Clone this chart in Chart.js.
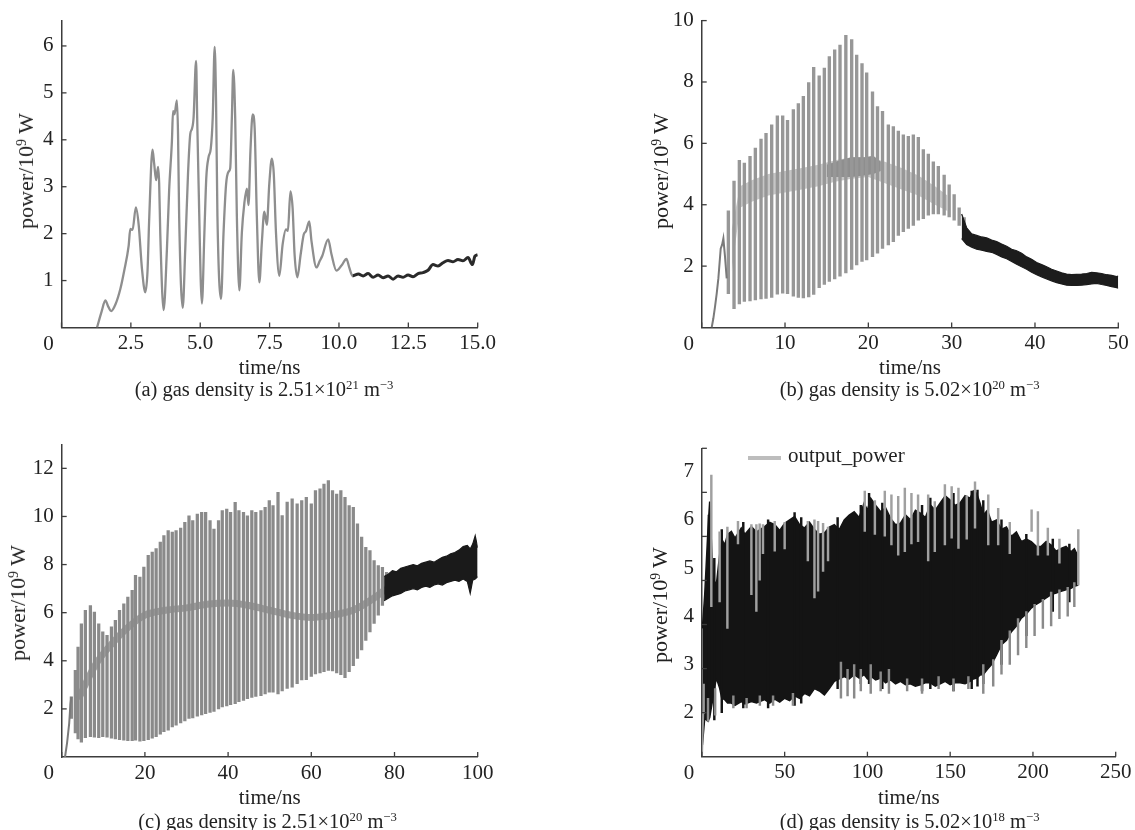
<!DOCTYPE html>
<html><head><meta charset="utf-8">
<script src="https://cdn.jsdelivr.net/npm/chart.js@4.4.1/dist/chart.umd.min.js"></script>
<style>
html,body{margin:0;padding:0;background:#fff;width:1135px;height:830px;overflow:hidden;}
#wrap{position:relative;width:1135px;height:830px;background:#fff;}
canvas{position:absolute;}
.t{position:absolute;transform:translate(-50%,-50%);font-family:"Liberation Serif","Times New Roman",serif;font-size:21px;line-height:1;white-space:nowrap;color:#222;}
.yt{transform:translate(-50%,-50%) rotate(-90deg);font-size:22px;}
.cap{font-size:20.5px;}
sup{font-size:0.62em;position:relative;top:-0.5em;vertical-align:baseline;line-height:0;}
#legline{position:absolute;left:748px;top:456px;width:33px;height:4px;background:#bdbdbd;}
#legtxt{position:absolute;left:788px;top:445px;font-family:"Liberation Serif",serif;font-size:21px;line-height:21px;color:#222;white-space:nowrap;}
</style></head><body>
<div id="wrap">
<canvas id="ca" width="567" height="410" style="left:0;top:0"></canvas>
<canvas id="cb" width="568" height="410" style="left:567px;top:0"></canvas>
<canvas id="cc" width="567" height="420" style="left:0;top:410px"></canvas>
<canvas id="cd" width="568" height="420" style="left:567px;top:410px"></canvas>

<div class="t yt" style="left:26px;top:171px">power/10<sup>9</sup> W</div>
<div class="t" style="left:269.6px;top:367px">time/ns</div>
<div class="t cap" style="left:264px;top:388.5px">(a) gas density is 2.51×10<sup>21</sup> m<sup>−3</sup></div>

<div class="t yt" style="left:660.5px;top:171px">power/10<sup>9</sup> W</div>
<div class="t" style="left:910px;top:367px">time/ns</div>
<div class="t cap" style="left:909.6px;top:388.5px">(b) gas density is 5.02×10<sup>20</sup> m<sup>−3</sup></div>

<div class="t yt" style="left:18px;top:603px">power/10<sup>9</sup> W</div>
<div class="t" style="left:269.7px;top:796.7px">time/ns</div>
<div class="t cap" style="left:267.5px;top:820.7px">(c) gas density is 2.51×10<sup>20</sup> m<sup>−3</sup></div>

<div class="t yt" style="left:660px;top:605px">power/10<sup>9</sup> W</div>
<div class="t" style="left:908.8px;top:796.7px">time/ns</div>
<div class="t cap" style="left:909.6px;top:820.7px">(d) gas density is 5.02×10<sup>18</sup> m<sup>−3</sup></div>

<div id="legline"></div>
<div id="legtxt">output_power</div>
</div>
<script>
// ---------------- data ----------------
// (a) 2.51e21 m^-3
const aT = [1.28,1.45,1.58,1.68,1.79,1.95,2.12,2.26,2.42,2.48,2.56,2.68,2.78,2.9,3.02,3.1,3.16,3.28,3.34,3.41,3.48,3.52,3.56,3.68,3.8,3.88,3.98,4.02,4.07,4.16,4.2,4.24,4.37,4.46,4.56,4.64,4.7,4.76,4.85,4.89,4.94,5.06,5.15,5.22,5.3,5.38,5.45,5.52,5.57,5.62,5.75,5.84,5.93,6.02,6.08,6.14,6.19,6.26,6.32,6.41,6.5,6.59,6.68,6.74,6.81,6.89,6.96,7.04,7.13,7.22,7.31,7.4,7.49,7.58,7.65,7.73,7.85,7.97,8.09,8.16,8.25,8.33,8.4,8.5,8.62,8.73,8.81,8.93,9.01,9.19,9.31,9.4,9.61,9.73,9.91,10.09,10.27,10.37,10.49,10.7,10.87,11.05,11.23,11.41,11.59,11.77,11.95,12.13,12.31,12.49,12.67,12.85,13.03,13.21,13.39,13.57,13.75,13.93,14.11,14.29,14.47,14.65,14.81,14.9,15.0];
const aPower = [0,0.35,0.58,0.45,0.35,0.5,0.82,1.21,1.74,2.1,2.08,2.56,2.2,1.25,0.75,1.2,2.3,3.79,3.49,3.14,3.42,3.07,2.0,0.37,1.67,2.93,3.98,4.61,4.54,4.84,4.12,2.37,0.42,1.67,3.28,4.12,4.23,4.47,5.68,4.47,3.07,0.51,2.02,3.21,3.63,3.81,4.47,5.98,4.82,2.37,0.61,2.02,3.04,3.32,3.39,4.47,5.49,4.47,2.37,0.79,2.02,2.65,2.96,2.61,3.77,4.54,4.26,2.37,0.96,1.81,2.47,2.19,3.07,3.6,3.28,2.02,1.1,1.77,2.09,2.06,2.9,2.54,1.56,1.07,1.56,1.98,2.05,2.26,1.84,1.28,1.42,1.53,1.88,1.56,1.21,1.32,1.46,1.28,1.1,1.14,1.1,1.15,1.07,1.12,1.06,1.1,1.03,1.1,1.07,1.12,1.08,1.15,1.17,1.22,1.34,1.31,1.38,1.43,1.4,1.45,1.42,1.49,1.34,1.52,1.55];
const aXTicks = [0,2.5,5,7.5,10,12.5,15];
const aXLabels = ['0','2.5','5.0','7.5','10.0','12.5','15.0'];
const aYTicks = [1,2,3,4,5,6];

// (b) 5.02e20 m^-3
const bRiseT = [1.2,1.4,1.6,1.8,2.0,2.28,2.45,2.6,2.8,3.0];
const bRiseP = [0,0.3,0.68,1.1,1.6,2.57,2.7,2.9,2.3,1.6];
const bSpikeT = [3.2,3.88,4.52,5.12,5.8,6.44,7.12,7.72,8.4,9.08,9.72,10.3,11.0,11.6,12.2,12.84,13.44,14.1,14.72,15.32,15.96,16.6,17.3,18.0,18.6,19.24,19.8,20.5,21.1,21.7,22.4,23.0,23.6,24.2,24.8,25.4,26.0,26.6,27.2,27.8,28.4,29.1,29.7,30.3,30.9,31.5];
const bSpikeHi = [3.8,4.77,5.45,5.36,5.58,5.85,6.14,6.33,6.6,6.9,6.9,6.75,7.1,7.3,7.53,7.98,8.48,8.2,8.45,8.83,9.05,9.2,9.52,9.38,8.88,8.6,8.3,7.68,7.2,7.04,6.6,6.55,6.4,6.28,6.23,6.28,6.2,5.8,5.65,5.4,5.25,4.97,4.65,4.33,3.9,3.58];
const bSpikeLo = [1.1,0.61,0.77,0.85,0.87,0.9,0.93,0.95,0.98,1.09,1.12,1.1,1.02,0.98,0.96,1.0,1.08,1.3,1.4,1.5,1.58,1.67,1.78,1.89,2.04,2.15,2.2,2.31,2.42,2.58,2.69,2.8,3.0,3.12,3.23,3.33,3.5,3.55,3.66,3.7,3.7,3.66,3.6,3.5,3.33,3.12];
const bMidT = [3.6,4.6,6,8,10,12,14,16,18,20,22,24,26,28,29.5];
const bMidLo = [1.8,3.9,4.1,4.3,4.4,4.5,4.6,4.75,4.85,4.9,4.7,4.5,4.3,4.0,3.8];
const bMidHi = [3.2,4.6,4.8,5.0,5.1,5.2,5.3,5.45,5.55,5.55,5.4,5.2,4.95,4.6,4.3];
const bCoreT = [15,16.6,18,19.5,20.6,21.5];
const bCoreLo = [4.9,4.9,4.9,4.95,5.0,5.1];
const bCoreHi = [5.3,5.45,5.55,5.55,5.6,5.4];
const bTailT = [31.2,31.8,32.4,33.0,33.6,34.2,34.8,35.4,36.0,36.6,37.2,37.8,38.4,39.0,39.6,40.2,40.8,41.4,42.0,42.6,43.2,43.8,44.4,45.0,45.6,46.2,46.8,47.4,48.0,48.6,49.2,49.8,50];
const bTailHi = [3.7,3.25,3.05,3.0,2.95,2.92,2.85,2.8,2.72,2.65,2.55,2.5,2.42,2.3,2.22,2.12,2.05,1.98,1.9,1.84,1.78,1.74,1.72,1.73,1.74,1.76,1.8,1.78,1.76,1.72,1.7,1.66,1.68];
const bTailLo = [2.9,2.7,2.62,2.55,2.52,2.48,2.45,2.38,2.3,2.24,2.15,2.06,1.98,1.9,1.8,1.72,1.65,1.58,1.52,1.46,1.42,1.38,1.37,1.37,1.38,1.4,1.42,1.44,1.4,1.37,1.33,1.3,1.28];
const bXTicks = [0,10,20,30,40,50];
const bXLabels = ['0','10','20','30','40','50'];
const bYTicks = [2,4,6,8,10];

// (c) 2.51e20 m^-3
const cRiseT = [0.8,1.3,1.8,2.1,2.32];
const cRiseP = [0,0.6,1.4,2.2,2.5];
const cSpikeT = [2.32,3.28,3.93,4.73,5.69,6.9,7.86,8.9,9.87,10.9,11.96,12.9,13.9,14.93,15.9,16.94,17.74,18.8,19.75,20.8,21.76,22.7,23.7,24.57,25.6,26.58,27.5,28.6,29.6,30.6,31.5,32.6,33.65,34.6,35.66,36.6,37.7,38.6,39.67,40.6,41.7,42.6,43.7,44.65,45.7,46.66,47.9,48.9,49.9,50.8,52.0,53.0,54.2,55.4,56.6,57.7,58.8,60.0,61.0,62.1,63.05,64.1,65.1,66.1,67.1,68.1,69.1,70.1,71.1,72.1,73.1,74.1,75.1,76.1,77.1,78.1];
const cSpikeHi = [2.5,3.6,4.57,5.54,6.1,6.3,6.02,5.54,5.2,5.06,5.41,5.68,6.1,6.37,6.65,6.93,7.55,7.48,7.9,8.38,8.52,8.66,8.93,9.2,9.41,9.35,9.41,9.52,9.76,10.03,9.83,10.1,10.17,10.17,9.83,9.48,9.83,10.24,10.31,10.17,10.59,10.24,10.17,10.03,10.24,10.17,10.24,10.38,10.66,10.45,11.0,10.04,10.6,10.73,10.52,10.66,10.8,10.52,11.08,11.15,11.35,11.49,11.08,10.93,11.08,10.8,10.45,10.38,9.69,9.14,8.72,8.58,8.17,7.96,7.89,7.68];
const cSpikeLo = [1.6,1.0,0.75,0.62,0.8,0.85,0.82,0.8,0.85,0.82,0.78,0.75,0.72,0.7,0.68,0.68,0.7,0.66,0.68,0.72,0.78,0.85,0.95,1.05,1.12,1.25,1.32,1.42,1.5,1.6,1.62,1.7,1.75,1.8,1.85,1.9,2.0,2.08,2.12,2.18,2.22,2.3,2.35,2.42,2.48,2.52,2.55,2.62,2.7,2.7,2.62,2.75,2.85,2.9,3.05,3.2,3.22,3.35,3.45,3.5,3.55,3.6,3.58,3.5,3.42,3.3,3.55,3.8,4.1,4.45,4.85,5.2,5.55,5.9,6.3,6.6];
const cInnerT = [4,8,12,16,20,25,30,35,40,45,50,55,60,65,70,75,78];
const cInnerP = [2.4,3.8,4.7,5.4,5.9,6.1,6.2,6.35,6.4,6.3,6.1,5.9,5.8,5.9,6.1,6.6,7.0];
const cTailT = [77.5,78.5,79.5,80.5,81.5,82.5,83.5,84.5,85.5,86.5,87.5,88.5,89.5,90.5,91.5,92.5,93.5,94.5,95.5,96.5,97.5,98.2,98.8,99.4,100];
const cTailHi = [7.5,7.6,7.75,7.7,7.85,7.9,7.95,8.0,7.95,8.05,8.1,8.15,8.1,8.2,8.3,8.35,8.45,8.5,8.6,8.75,8.8,8.65,8.85,9.2,8.7];
const cTailLo = [6.5,6.6,6.7,6.75,6.8,6.9,6.95,7.0,6.95,7.05,7.1,7.05,7.15,7.2,7.15,7.25,7.3,7.35,7.3,7.4,7.3,6.8,7.35,7.4,7.5];
const cXTicks = [0,20,40,60,80,100];
const cXLabels = ['0','20','40','60','80','100'];
const cYTicks = [2,4,6,8,10,12];

// (d) 5.02e18 m^-3
const dStartT = [0.05,0.3,0.8,1.2];
const dStartP = [1.1,1.4,2.0,2.6];
const dBandT = [0.3,1.7,3.7,4.7,6.7,8.7,10.7,12,13.8,15.5,17.8,20,23.8,26,29.9,33,37.9,41,44,47,50,53,56,59,62,65,68,71,74,77,80,83,86,89,92,95,98,100,102,105,108,111,114,117,120,123,126,129,132,135,138,141,144,147,150,153,156,159,162,164,166,168,170,172.5,175,178,181,184,187,190,193,196,199,202,205,208,211,214,217,220,223,225,227.4];
const dBandHi = [3.75,4.45,5.83,6.38,4.79,4.65,5.27,5.6,5.48,5.7,5.76,5.62,5.83,5.7,5.86,5.75,5.86,5.95,5.9,5.78,5.93,6.0,6.07,5.9,5.83,5.95,5.8,5.7,5.73,5.85,5.9,5.8,6.0,6.1,6.17,6.05,6.35,6.2,6.45,6.3,6.17,6.25,6.03,5.9,5.93,6.1,6.0,6.2,6.14,6.05,6.31,6.2,6.35,6.5,6.41,6.3,6.35,6.5,6.45,6.6,6.55,6.35,6.1,6.2,5.95,6.0,5.8,5.85,5.66,5.75,5.55,5.6,5.55,5.45,5.45,5.55,5.48,5.35,5.41,5.45,5.34,5.4,5.24];
const dBandLo = [1.33,1.88,1.82,1.9,2.3,2.72,2.51,2.3,2.27,2.2,2.2,2.15,2.23,2.18,2.23,2.2,2.27,2.2,2.28,2.22,2.3,2.25,2.35,2.3,2.4,2.35,2.5,2.45,2.37,2.5,2.65,2.7,2.75,2.7,2.79,2.72,2.79,2.7,2.76,2.68,2.72,2.62,2.68,2.6,2.65,2.58,2.6,2.55,2.58,2.62,2.62,2.55,2.6,2.65,2.58,2.62,2.62,2.6,2.65,2.7,2.72,2.78,2.79,2.9,3.0,3.2,3.41,3.5,3.68,3.8,3.96,4.05,4.17,4.25,4.31,4.38,4.45,4.48,4.52,4.55,4.58,4.62,4.65];
const dUpT = [5.7,10.7,15.4,21.8,29.9,32.9,34.9,36.9,44,50,64,68,70.2,73.2,76.2,98.4,104.5,110.5,114.5,118.6,122.6,126.6,130.6,136.7,140.7,146.8,150.9,155,160,165,173,179,186,199.2,203,209,216,227.4];
const dUpLo = [4.2,4.3,3.75,5.5,4.45,4.1,4.75,5.3,5.35,5.4,5.15,4.38,4.52,4.93,5.15,5.76,5.7,5.66,5.48,5.27,5.34,5.5,5.55,5.15,5.34,5.48,5.62,5.41,5.6,5.83,5.48,5.48,5.3,5.76,5.27,5.27,5.1,4.65];
const dUpHi = [6.93,5.75,5.85,5.97,5.9,5.9,5.92,5.9,5.97,5.95,5.97,6.0,5.97,5.93,5.85,6.6,6.4,6.6,6.52,6.49,6.66,6.55,6.52,6.52,6.38,6.73,6.69,6.66,6.5,6.79,6.52,6.24,5.95,6.21,6.17,5.83,5.6,5.8];
const dDnT = [3.7,8,19,27,35,43,55,84,88,92,96,102,108,113,124,133,143,152,161,170,176,181,186,191,196,201,206,211,216,221,225];
const dDnLo = [1.82,1.95,2.1,2.1,2.15,2.15,2.15,2.3,2.35,2.3,2.45,2.4,2.45,2.4,2.45,2.4,2.5,2.45,2.5,2.4,2.55,2.8,3.0,3.2,3.35,3.6,3.75,3.8,3.95,4.0,4.2];
const dDnHi = [2.3,2.5,2.35,2.3,2.35,2.35,2.4,3.05,2.9,3.0,2.9,3.0,2.85,2.9,2.7,2.7,2.75,2.7,2.75,3.0,3.1,3.5,3.7,3.95,4.1,4.25,4.35,4.5,4.55,4.6,4.7];
const dBlkT = [4.2,7.5,12,25,40,56,60,82,96,101,109,133,138,152,163,166.5,170,181,196,212,222];
const dBlkLo = [1.9,1.85,2.0,2.1,2.1,2.15,2.2,2.5,2.6,2.6,2.5,2.45,2.5,2.45,2.5,2.55,2.6,3.0,3.6,4.1,4.3];
const dBlkHi = [6.1,5.2,5.8,5.95,6.0,6.15,6.05,6.05,6.3,6.55,6.35,6.3,6.45,6.55,6.6,6.62,6.4,6.0,5.7,5.6,5.5];
const dXTicks = [0,50,100,150,200,250];
const dXLabels = ['0','50','100','150','200','250'];
const dYTicks = [2,3,4,5,6,7];
const dYMarkTicks = [2,3,4,5,6,7,8];

// ---------------- helpers ----------------
const AXIS = '#3c3c3c', TXT = '#222';
const FONT = {family: '"Liberation Serif", "Times New Roman", serif', size: 21};
const pts = (xs, ys) => xs.map((x, i) => ({x, y: ys[i]}));
const bars = (xs, lo, hi) => xs.map((x, i) => ({x, y: [lo[i], hi[i]]}));

const inwardTicks = {
  id: 'inwardTicks',
  afterDraw(chart, args, o) {
    const {ctx, chartArea: ca} = chart;
    ctx.save();
    ctx.strokeStyle = AXIS; ctx.lineWidth = 1.3;
    const xs = chart.scales.x;
    xs.ticks.forEach(t => {
      const px = xs.getPixelForValue(t.value);
      ctx.beginPath(); ctx.moveTo(px, ca.bottom); ctx.lineTo(px, ca.bottom - 5); ctx.stroke();
    });
    const ys = chart.scales[o.yScale || 'y'];
    ys.ticks.forEach(t => {
      const py = ys.getPixelForValue(t.value);
      ctx.beginPath(); ctx.moveTo(ca.left, py); ctx.lineTo(ca.left + 5, py); ctx.stroke();
    });
    if (o.zero) {
      ctx.fillStyle = TXT;
      ctx.font = '21px "Liberation Serif", serif';
      ctx.textAlign = 'center'; ctx.textBaseline = 'middle';
      ctx.fillText(o.zero, xs.getPixelForValue(0) - 13, ca.bottom + 16.5);
    }
    ctx.restore();
  }
};

function makePanel(id, g, xa, ya, datasets, y2) {
  const cv = document.getElementById(id);
  const W = cv.width, H = cv.height;
  const scales = {
    x: {
      type: 'linear', position: 'bottom', min: xa.min, max: xa.max, offset: false,
      afterBuildTicks: s => { s.ticks = xa.ticks.map(v => ({value: v})); },
      afterFit: s => { s.height = H - g.b; },
      ticks: {font: FONT, color: TXT, padding: 3.5, maxRotation: 0, autoSkip: false,
        callback: (v, i) => (xa.ticks[i] === 0 ? '' : xa.labels[i])},
      grid: {display: true, drawOnChartArea: false, drawTicks: false},
      border: {display: true, color: AXIS, width: 1.5}
    },
    y: {
      type: 'linear', position: 'left', min: ya.min, max: ya.max,
      afterBuildTicks: s => { s.ticks = ya.ticks.map(v => ({value: v})); },
      afterFit: s => { s.width = g.l; },
      ticks: {font: FONT, color: TXT, padding: 8, autoSkip: false, callback: v => String(v)},
      grid: {display: true, drawOnChartArea: false, drawTicks: false},
      border: {display: true, color: AXIS, width: 1.5}
    }
  };
  if (y2) {
    scales.y2 = {type: 'linear', position: 'left', display: false, min: y2.min, max: y2.max,
      afterBuildTicks: s => { s.ticks = y2.ticks.map(v => ({value: v})); }};
  }
  return new Chart(cv, {
    type: 'line',
    data: {datasets},
    options: {
      responsive: false, animation: false, devicePixelRatio: 1, events: [],
      layout: {padding: {left: 0, top: g.t, right: W - g.r, bottom: 0}},
      elements: {point: {radius: 0}},
      scales,
      plugins: {legend: {display: false}, tooltip: {enabled: false},
        inwardTicks: {yScale: y2 ? 'y2' : 'y', zero: '0'}}
    },
    plugins: [inwardTicks]
  });
}

const lineDs = (data, color, width, order, extra) => Object.assign({
  type: 'line', data, borderColor: color, borderWidth: width, pointRadius: 0,
  fill: false, tension: 0, order
}, extra || {});
const barDs = (data, color, thick, order) => ({
  type: 'bar', data, backgroundColor: color, borderWidth: 0, borderSkipped: false,
  barThickness: thick, grouped: false, order
});

// ---------------- panel (a) ----------------
makePanel('ca', {l: 61.5, t: 17, r: 477.7, b: 327.5},
  {min: 0, max: 15, ticks: aXTicks, labels: aXLabels},
  {min: 0, max: 6.54, ticks: aYTicks},
  [lineDs(pts(aT, aPower), '#8e8e8e', 2.3, 1, {
    cubicInterpolationMode: 'monotone',
    segment: {
      borderColor: c => c.p0.parsed.x >= 10.45 ? '#2a2a2a' : undefined,
      borderWidth: c => c.p0.parsed.x >= 10.45 ? 3 : undefined
    }
  })]);

// ---------------- panel (b) ----------------
makePanel('cb', {l: 134.7, t: 17.5, r: 551.3, b: 327.5},
  {min: 0, max: 50, ticks: bXTicks, labels: bXLabels},
  {min: 0, max: 10, ticks: bYTicks},
  [
    lineDs(pts(bMidT, bMidHi), 'rgba(0,0,0,0)', 0, 6, {fill: '+1', backgroundColor: '#c6c6c6'}),
    lineDs(pts(bMidT, bMidLo), 'rgba(0,0,0,0)', 0, 6),
    lineDs(pts(bCoreT, bCoreHi), 'rgba(0,0,0,0)', 0, 5, {fill: '+1', backgroundColor: '#8f8f8f'}),
    lineDs(pts(bCoreT, bCoreLo), 'rgba(0,0,0,0)', 0, 5),
    barDs(bars(bSpikeT, bSpikeLo, bSpikeHi), '#979797', 2.7, 4),
    lineDs(pts(bTailT, bTailHi), '#1c1c1c', 1.2, 3, {fill: '+1', backgroundColor: '#1c1c1c'}),
    lineDs(pts(bTailT, bTailLo), '#1c1c1c', 1.2, 3),
    lineDs(pts(bRiseT, bRiseP), '#7a7a7a', 2, 2)
  ]);

// ---------------- panel (c) ----------------
makePanel('cc', {l: 61.7, t: 34.3, r: 477.7, b: 347},
  {min: 0, max: 100, ticks: cXTicks, labels: cXLabels},
  {min: 0, max: 13, ticks: cYTicks},
  [
    lineDs(pts(cInnerT, cInnerP), 'rgba(70,70,70,0.5)', 7, 5, {cubicInterpolationMode: 'monotone'}),
    barDs(bars(cSpikeT, cSpikeLo, cSpikeHi), '#8a8a8a', 2.6, 4),
    lineDs(pts(cTailT, cTailHi), '#1a1a1a', 1.2, 3, {fill: '+1', backgroundColor: '#1a1a1a'}),
    lineDs(pts(cTailT, cTailLo), '#1a1a1a', 1.2, 3),
    lineDs(pts(cRiseT, cRiseP), '#7a7a7a', 2, 2)
  ]);

// ---------------- panel (d) ----------------
makePanel('cd', {l: 134.9, t: 38.3, r: 548.7, b: 346.7},
  {min: 0, max: 250, ticks: dXTicks, labels: dXLabels},
  {min: 1.087, max: 7.485, ticks: dYTicks},
  [
    lineDs(pts(dBandT, dBandHi), '#141414', 1.5, 5, {fill: '+1', backgroundColor: '#141414'}),
    lineDs(pts(dBandT, dBandLo), '#141414', 1.5, 5),
    barDs(bars(dBlkT, dBlkLo, dBlkHi), '#141414', 1.8, 4),
    barDs(bars(dUpT, dUpLo, dUpHi), '#a0a0a0', 1.8, 3),
    barDs(bars(dDnT, dDnLo, dDnHi), '#8a8a8a', 1.8, 3),
    lineDs(pts(dStartT, dStartP), '#9a9a9a', 2, 2)
  ],
  {min: 1, max: 8, ticks: dYMarkTicks});
</script>
</body></html>
